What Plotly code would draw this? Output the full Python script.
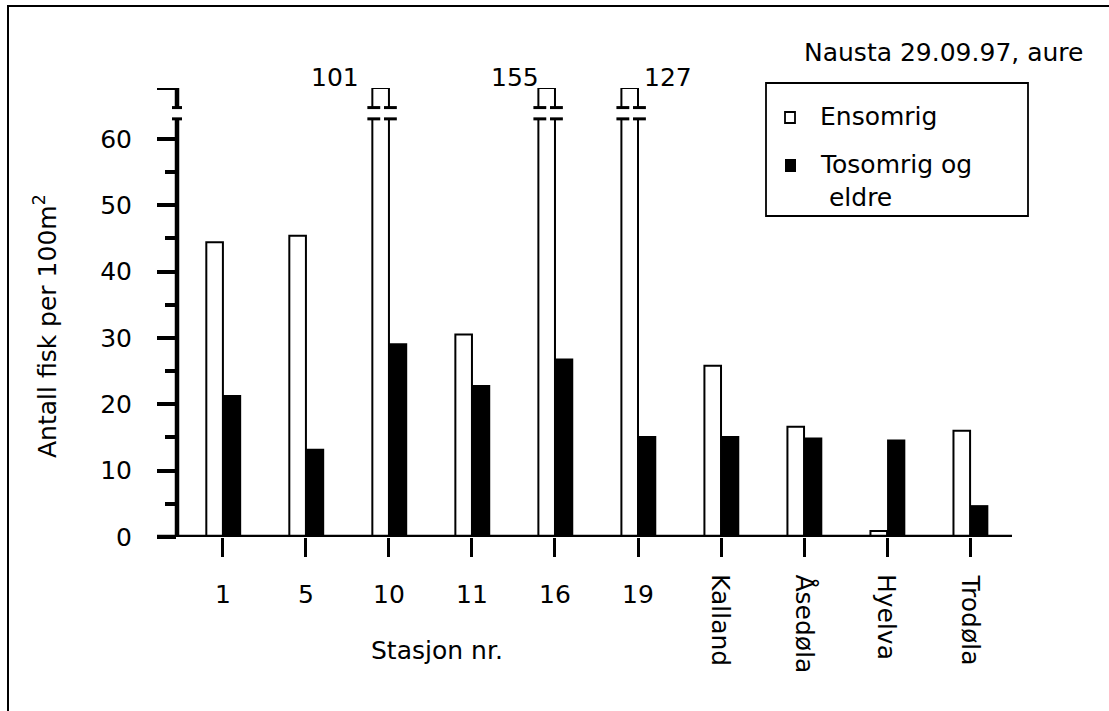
import plotly.graph_objects as go

# ---------------- data ----------------
stations = ["1", "5", "10", "11", "16", "19", "Kalland", "Åsedøla", "Hyelva", "Trodøla"]
ensomrig = [44.4, 45.4, 101, 30.5, 155, 127, 25.8, 16.6, 0.9, 16.0]
tosomrig = [21.4, 13.3, 29.2, 22.9, 26.9, 15.2, 15.2, 15.0, 14.7, 4.8]
y_ticks = [0, 10, 20, 30, 40, 50, 60]
y_minor = [5, 15, 25, 35, 45, 55]
title_text = "Nausta 29.09.97, aure"
legend_names = ["Ensomrig", "Tosomrig og<br> eldre"]
# label placement relative to the broken bar: (side, offset in category units)
label_pos = {"10": ("left", -0.137), "16": ("left", 0.03), "19": ("right", 0.05)}

# ---------------- layout constants ----------------
W, H = 1109, 711
L, R, T, B = 177, 1012, 88, 537
TOP = 67.65          # top of the broken axis (display units)
BRK_LO, BRK_HI = 63.0, 64.7
FONT = "DejaVu Sans"
FS = 25
BW_E, BW_T = 0.2, 0.22


def px_x(p):
    return (p - L) / (R - L)


def px_y(p):
    return (B - p) / (B - T)


disp_ens = [min(v, TOP) for v in ensomrig]

fig = go.Figure()
fig.add_trace(go.Bar(x=stations, y=disp_ens, width=BW_E, offset=-BW_E,
                     marker=dict(color="white", line=dict(color="black", width=2)),
                     name="Ensomrig", showlegend=False,
                     customdata=ensomrig, hovertemplate="%{x}: %{customdata}<extra>Ensomrig</extra>"))
fig.add_trace(go.Bar(x=stations, y=tosomrig, width=BW_T, offset=0,
                     marker=dict(color="black", line=dict(color="black", width=0)),
                     name="Tosomrig og eldre", showlegend=False))

shapes = []
annotations = []

# broken bars
for i, (s, v) in enumerate(zip(stations, ensomrig)):
    if v > TOP:
        shapes.append(dict(type="rect", xref="x", yref="y", x0=i - BW_E - 0.04, x1=i + 0.02,
                           y0=BRK_LO, y1=BRK_HI, fillcolor="white", line=dict(width=0), layer="above"))
        for edge in (i - BW_E, i):
            for yy in (BRK_LO, BRK_HI):
                shapes.append(dict(type="line", xref="x", yref="y", x0=edge - 0.06, x1=edge + 0.095,
                                   y0=yy, y1=yy, line=dict(color="black", width=3), layer="above"))
        side, off = label_pos.get(s, ("left", -0.137))
        if side == "left":
            annotations.append(dict(x=i - BW_E + off, y=px_y(77), xref="x", yref="paper", text=str(v),
                                    showarrow=False, xanchor="right", yanchor="middle",
                                    font=dict(size=FS)))
        else:
            annotations.append(dict(x=i + off, y=px_y(77), xref="x", yref="paper", text=str(v),
                                    showarrow=False, xanchor="left", yanchor="middle",
                                    font=dict(size=FS)))

# x axis line
shapes.append(dict(type="line", xref="paper", yref="y", x0=px_x(157), x1=1, y0=0, y1=0,
                   line=dict(color="black", width=4.3)))
# broken y axis line
shapes.append(dict(type="line", xref="paper", yref="y", x0=0, x1=0, y0=0, y1=BRK_LO,
                   line=dict(color="black", width=4.5)))
shapes.append(dict(type="line", xref="paper", yref="y", x0=0, x1=0, y0=BRK_HI, y1=TOP,
                   line=dict(color="black", width=4.5)))
for yy in (BRK_LO, BRK_HI):
    shapes.append(dict(type="line", xref="paper", yref="y", x0=px_x(172), x1=px_x(182), y0=yy, y1=yy,
                       line=dict(color="black", width=3)))
shapes.append(dict(type="line", xref="paper", yref="y", x0=px_x(157), x1=px_x(179), y0=TOP, y1=TOP,
                   line=dict(color="black", width=4)))

# outer frame (top and left)
shapes.append(dict(type="line", xref="paper", yref="paper", x0=px_x(7), x1=px_x(W + 5),
                   y0=px_y(6), y1=px_y(6), line=dict(color="black", width=2)))
shapes.append(dict(type="line", xref="paper", yref="paper", x0=px_x(8), x1=px_x(8),
                   y0=px_y(5), y1=px_y(H + 5), line=dict(color="black", width=2)))

# legend box
shapes.append(dict(type="rect", xref="paper", yref="paper", x0=px_x(766), x1=px_x(1028),
                   y0=px_y(216), y1=px_y(83), line=dict(color="black", width=1.8), fillcolor="white"))
shapes.append(dict(type="rect", xref="paper", yref="paper", x0=px_x(785), x1=px_x(795),
                   y0=px_y(123), y1=px_y(112), line=dict(color="black", width=1.8), fillcolor="white"))
shapes.append(dict(type="rect", xref="paper", yref="paper", x0=px_x(785), x1=px_x(796),
                   y0=px_y(172), y1=px_y(159), line=dict(color="black", width=0), fillcolor="black"))
annotations.append(dict(x=px_x(818), y=px_y(117), xref="paper", yref="paper", text=legend_names[0],
                        showarrow=False, xanchor="left", yanchor="middle", font=dict(size=FS)))
annotations.append(dict(x=px_x(818), y=px_y(181), xref="paper", yref="paper", text=legend_names[1],
                        showarrow=False, xanchor="left", yanchor="middle", align="left",
                        font=dict(size=FS)))

# title
annotations.append(dict(x=px_x(1085), y=px_y(52), xref="paper", yref="paper", text=title_text,
                        showarrow=False, xanchor="right", yanchor="middle", font=dict(size=FS)))

# x tick labels
for i, s in enumerate(stations):
    if s.isdigit():
        annotations.append(dict(x=i, y=px_y(594), xref="x", yref="paper", text=s, showarrow=False,
                                xanchor="center", yanchor="middle", font=dict(size=FS)))
    else:
        annotations.append(dict(x=i, y=px_y(572), xref="x", yref="paper", text=s, showarrow=False,
                                textangle=90, xanchor="center", yanchor="top", font=dict(size=FS)))

# axis titles
annotations.append(dict(x=px_x(437), y=px_y(650), xref="paper", yref="paper", text="Stasjon nr.",
                        showarrow=False, xanchor="center", yanchor="middle", font=dict(size=FS)))
annotations.append(dict(x=px_x(45), y=px_y(326), xref="paper", yref="paper",
                        text="Antall fisk per 100m<sup>2</sup>", textangle=-90,
                        showarrow=False, xanchor="center", yanchor="middle", font=dict(size=FS)))

fig.update_layout(
    width=W, height=H,
    margin=dict(l=L, r=W - R, t=T, b=H - B, pad=0),
    paper_bgcolor="white", plot_bgcolor="white",
    font=dict(family=FONT, size=FS, color="black"),
    barmode="overlay",
    showlegend=False,
    shapes=shapes,
    annotations=annotations,
    xaxis=dict(type="category", categoryorder="array", categoryarray=stations,
               range=[-0.553, 9.505], showline=False, showgrid=False, zeroline=False,
               ticks="outside", ticklen=19, tickwidth=3.3, tickcolor="black",
               showticklabels=False),
    yaxis=dict(range=[0, TOP], tickmode="array", tickvals=y_ticks, ticks="outside",
               ticklen=19, tickwidth=3.5, tickcolor="black", showline=False, showgrid=False,
               zeroline=False, ticklabelstandoff=20, tickfont=dict(size=FS),
               minor=dict(tickmode="array", tickvals=y_minor, ticks="outside", ticklen=11,
                          tickwidth=3.5, tickcolor="black", showgrid=False)),
)

fig.write_html("out.html", config={"displayModeBar": False},
               post_script="document.body.style.margin='0px';document.body.style.overflow='hidden';")
